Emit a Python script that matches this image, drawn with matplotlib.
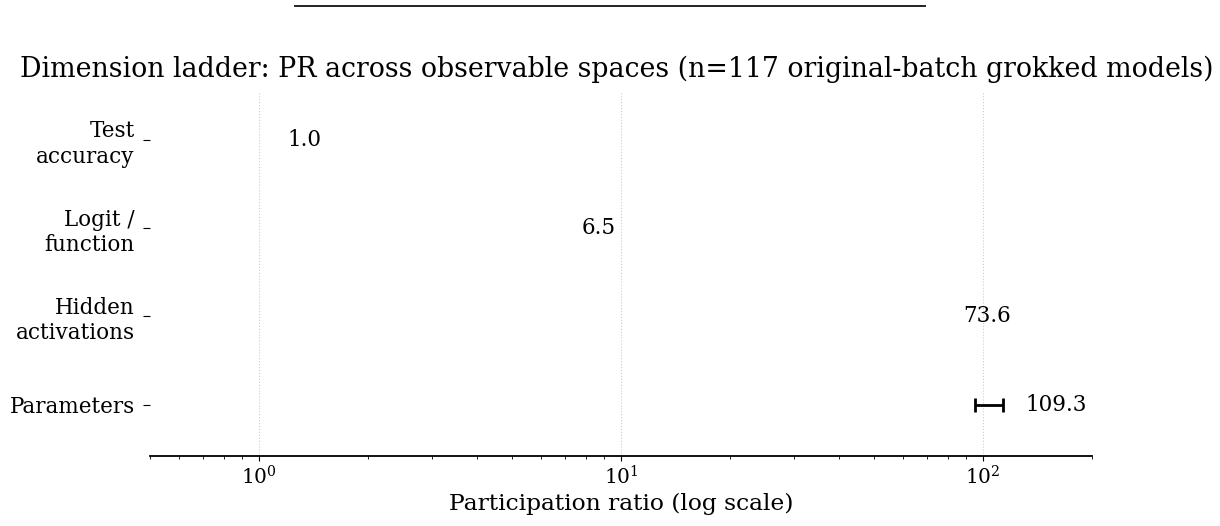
import matplotlib
matplotlib.use("Agg")
import matplotlib.pyplot as plt
from matplotlib.lines import Line2D
import numpy as np

plt.rcParams['font.family'] = 'serif'
plt.rcParams['font.serif'] = ['DejaVu Serif']
plt.rcParams['mathtext.fontset'] = 'dejavuserif'

spaces = ["Test\naccuracy", "Logit /\nfunction", "Hidden\nactivations", "Parameters"]
pr_values = [1.0, 6.5, 73.6, 109.3]
err_low = [0.0, 0.0, 0.0, 14.3]
err_high = [0.0, 0.0, 0.0, 4.3]

fig = plt.figure(figsize=(12.2, 5.26), dpi=100)
ax = fig.add_axes([150 / 1220, 1 - 456 / 526, 942 / 1220, 364 / 526])

y = np.arange(len(spaces))
has_err = [i for i in range(len(spaces)) if err_low[i] > 0 or err_high[i] > 0]
ax.errorbar([pr_values[i] for i in has_err], [y[i] for i in has_err],
            xerr=[[err_low[i] for i in has_err], [err_high[i] for i in has_err]],
            fmt='none', ecolor='black', elinewidth=2, capsize=5, capthick=2)

for yi, v in zip(y, pr_values):
    ax.text(v * 1.2, yi, f"{v:.1f}", ha='left', va='center', fontsize=15.5)

ax.set_xscale('log')
ax.set_xlim(0.5, 200)
ax.set_ylim(3.58, -0.54)
ax.set_yticks(y)
ax.set_yticklabels(spaces, fontsize=15.5, multialignment='right')
ax.tick_params(axis='y', length=5, pad=6)
ax.tick_params(axis='x', labelsize=14.5)
ax.set_xlabel("Participation ratio (log scale)", fontsize=16.8, labelpad=3)
ax.set_title("Dimension ladder: PR across observable spaces (n=117 original-batch grokked models)",
             fontsize=19.3, pad=11, x=0.495)
ax.grid(True, axis='x', which='major', linestyle=':', color='#cccccc', linewidth=0.8)
ax.set_axisbelow(True)
for s in ['top', 'right', 'left']:
    ax.spines[s].set_visible(False)
ax.spines['bottom'].set_linewidth(1.3)

fig.add_artist(Line2D([295 / 1220, 925 / 1220], [1 - 6 / 526, 1 - 6 / 526],
                      transform=fig.transFigure, color='#222222', linewidth=1.4))

fig.savefig("out.png", dpi=100)
